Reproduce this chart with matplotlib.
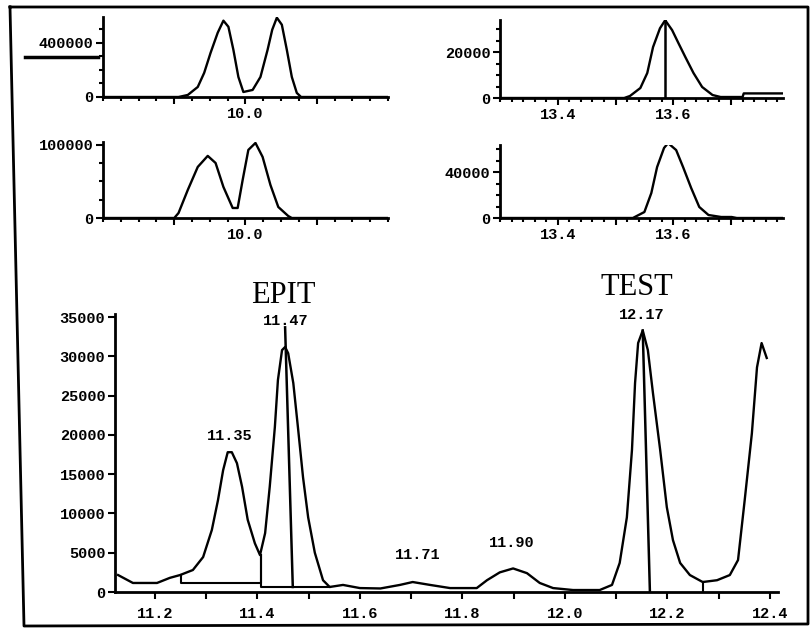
import matplotlib
matplotlib.use('Agg')
import numpy as np
import matplotlib.pyplot as plt
from matplotlib.lines import Line2D
from matplotlib.font_manager import FontProperties

W, H = 811, 628

# ---- top left: 9.8 - 10.2 min, two windows ----
p1_time = [9.80, 9.906, 9.919, 9.933, 9.942, 9.951, 9.961, 9.969, 9.976, 9.983, 9.990, 9.997,
           10.010, 10.021, 10.031, 10.0375, 10.044, 10.051, 10.058, 10.065, 10.072, 10.078, 10.20]
p1_signal = [0, 0, 15000, 74000, 178000, 326000, 474000, 563000, 518000, 348000, 148000, 37000,
             52000, 148000, 348000, 496000, 585000, 533000, 348000, 148000, 30000, 0, 0]

p3_time = [9.80, 9.900, 9.906, 9.919, 9.933, 9.947, 9.958, 9.969, 9.982, 9.989, 9.996, 10.004,
           10.014, 10.024, 10.035, 10.046, 10.060, 10.065, 10.20]
p3_signal = [0, 0, 6800, 38400, 69900, 85000, 75300, 42500, 13700, 13700, 52000, 93200,
             102700, 83600, 45200, 15100, 2700, 0, 0]

# ---- top right: 13.3 - 13.8 min ----
p2_time = [13.30, 13.515, 13.525, 13.543, 13.555, 13.565, 13.577, 13.586, 13.598, 13.609,
           13.621, 13.635, 13.650, 13.668, 13.682, 13.72, 13.722, 13.79]
p2_signal = [0, 0, 870, 4350, 10900, 22200, 30400, 33900, 29600, 23900,
             17800, 10900, 4800, 1300, 430, 430, 2000, 2000]
p2_marker = 13.586

p4_time = [13.30, 13.530, 13.550, 13.562, 13.572, 13.584, 13.591, 13.605, 13.617, 13.631,
           13.645, 13.661, 13.683, 13.701, 13.71, 13.79]
p4_signal = [0, 0, 5200, 21700, 44300, 60900, 65200, 59100, 44300, 26100,
             9600, 2600, 870, 870, 0, 0]

# ---- main trace 11.1 - 12.4 min ----
main_time = [11.128, 11.157, 11.204, 11.229, 11.249, 11.274, 11.294, 11.311, 11.323, 11.333,
             11.342, 11.350, 11.360, 11.370, 11.381, 11.395, 11.405, 11.415, 11.424, 11.434,
             11.440, 11.448, 11.454, 11.460, 11.470, 11.479, 11.489, 11.499, 11.512, 11.528,
             11.541, 11.567, 11.60, 11.64, 11.678, 11.703, 11.737, 11.776, 11.828, 11.848,
             11.873, 11.899, 11.926, 11.951, 11.977, 12.016, 12.068, 12.092, 12.107, 12.121,
             12.131, 12.137, 12.143, 12.152, 12.162, 12.172, 12.186, 12.199, 12.211, 12.225,
             12.244, 12.269, 12.297, 12.322, 12.338, 12.351, 12.365, 12.375, 12.384, 12.394]
main_signal = [2160, 1150, 1150, 1800, 2160, 2800, 4450, 7900, 11700, 15500,
               17800, 17800, 16400, 13400, 9200, 6200, 4700, 7500, 13400, 21000,
               27000, 30800, 31200, 30400, 26600, 21000, 14600, 9500, 5000, 1500,
               640, 900, 500, 450, 900, 1270, 900, 500, 500, 1500,
               2500, 3000, 2400, 1150, 500, 250, 250, 900, 3700, 9500,
               18100, 26600, 31700, 33300, 30800, 25300, 18100, 10800, 6600, 3700,
               2160, 1270, 1500, 2160, 4070, 11700, 20200, 28600, 31700, 29800]

peak_labels = ['11.35', '11.47', '11.71', '11.90', '12.17']
label_x = [11.346, 11.455, 11.713, 11.897, 12.150]
label_y = [19000, 33600, 3800, 5300, 34400]

# integration baselines / drop lines (time, signal pairs)
base1_x, base1_y = [11.251, 11.251, 11.406, 11.406], [2160, 1150, 1150, 4700]
base2_x, base2_y = [11.406, 11.406, 11.541], [4700, 640, 640]
drop3_x, drop3_y = [12.269, 12.269], [1270, 0]
mark1_x, mark1_y = [11.454, 11.469], [33700, 640]
mark2_x, mark2_y = [12.152, 12.166], [33300, 0]

mono = dict(family='Liberation Mono', weight='bold', size=11)


def px_axes(x0, x1, ytop, ybot):
    return fig.add_axes([x0 / W, 1 - ybot / H, (x1 - x0) / W, (ybot - ytop) / H])


def style(ax):
    for s in ['top', 'right']:
        ax.spines[s].set_visible(False)
    for s in ['left', 'bottom']:
        ax.spines[s].set_linewidth(2)
    ax.tick_params(which='both', direction='out', width=1.5, colors='black', pad=2)
    ax.tick_params(which='major', length=5)
    ax.tick_params(which='minor', length=3)
    for lab in ax.get_xticklabels() + ax.get_yticklabels():
        lab.set_fontproperties(FontProperties(**mono))


fig = plt.figure(figsize=(W / 100, H / 100), dpi=100)

# top-left 1
ax1 = px_axes(103, 388, 17, 97)
ax1.plot(p1_time, p1_signal, color='black', lw=1.7)
ax1.set_xlim(9.8, 10.2)
ax1.set_ylim(0, 590000)
ax1.set_xticks([9.9, 10.0, 10.1], labels=['', '10.0', ''])
ax1.set_xticks(np.arange(9.8, 10.2001, 0.025), minor=True)
ax1.set_yticks([0, 400000], labels=['0', '400000'])
ax1.set_yticks(np.arange(0, 590000, 100000), minor=True)
style(ax1)

# second-row left
ax3 = px_axes(103, 388, 142, 218)
ax3.plot(p3_time, p3_signal, color='black', lw=1.7)
ax3.set_xlim(9.8, 10.2)
ax3.set_ylim(0, 104000)
ax3.set_xticks([9.9, 10.0, 10.1], labels=['', '10.0', ''])
ax3.set_xticks(np.arange(9.8, 10.2001, 0.025), minor=True)
ax3.set_yticks([0, 100000], labels=['0', '100000'])
ax3.set_yticks(np.arange(0, 104000, 25000), minor=True)
style(ax3)

# top-right
ax2 = px_axes(500, 783, 20, 98)
ax2.plot(p2_time, p2_signal, color='black', lw=1.7)
ax2.plot([p2_marker, p2_marker], [0, 34000], color='black', lw=1.8)
ax2.set_xlim(13.3, 13.79)
ax2.set_ylim(0, 34000)
ax2.set_xticks([13.4, 13.5, 13.6, 13.7], labels=['13.4', '', '13.6', ''])
ax2.set_xticks(np.arange(13.3, 13.79, 0.02), minor=True)
ax2.set_yticks([0, 20000], labels=['0', '20000'])
ax2.set_yticks(np.arange(0, 34001, 5000), minor=True)
style(ax2)

# second-row right
ax4 = px_axes(500, 783, 145, 218)
ax4.plot(p4_time, p4_signal, color='black', lw=1.7)
ax4.set_xlim(13.3, 13.79)
ax4.set_ylim(0, 63500)
ax4.set_xticks([13.4, 13.5, 13.6, 13.7], labels=['13.4', '', '13.6', ''])
ax4.set_xticks(np.arange(13.3, 13.79, 0.02), minor=True)
ax4.set_yticks([0, 40000], labels=['0', '40000'])
ax4.set_yticks(np.arange(0, 63500, 10000), minor=True)
style(ax4)

# main chromatogram
ax = px_axes(115, 778, 314, 592)
ax.plot(main_time, main_signal, color='black', lw=1.7)
ax.plot(base1_x, base1_y, color='black', lw=1.5)
ax.plot(base2_x, base2_y, color='black', lw=1.5)
ax.plot(drop3_x, drop3_y, color='black', lw=1.5)
ax.plot(mark1_x, mark1_y, color='black', lw=1.8)
ax.plot(mark2_x, mark2_y, color='black', lw=1.8)
ax.set_xlim(11.122, 12.416)
ax.set_ylim(0, 35400)
ax.set_xticks([11.2, 11.4, 11.6, 11.8, 12.0, 12.2, 12.4])
ax.set_xticks(np.arange(11.2, 12.41, 0.1), minor=True)
ax.set_yticks(np.arange(0, 35001, 5000))
style(ax)
ax.tick_params(which='minor', length=5)
ax.tick_params(axis='x', pad=6)
for lab, x, y in zip(peak_labels, label_x, label_y):
    ax.text(x, y, lab, ha='center', va='bottom', **mono)
ax.text(11.45, 37800, 'EPIT', ha='center', va='center', family='Liberation Serif', size=22)
ax.text(12.14, 38800, 'TEST', ha='center', va='center', family='Liberation Serif', size=22)

# outer frame of the scanned page and the stray stroke at the left
frame_x = [10, 808, 808, 24, 10]
frame_y = [7, 7, 624, 626, 7]
fig.add_artist(Line2D([x / W for x in frame_x], [1 - y / H for y in frame_y],
                      color='black', lw=2))
fig.add_artist(Line2D([25 / W, 98 / W], [1 - 57 / H, 1 - 57 / H], color='black', lw=2.5))

fig.savefig('out.png', dpi=100)
